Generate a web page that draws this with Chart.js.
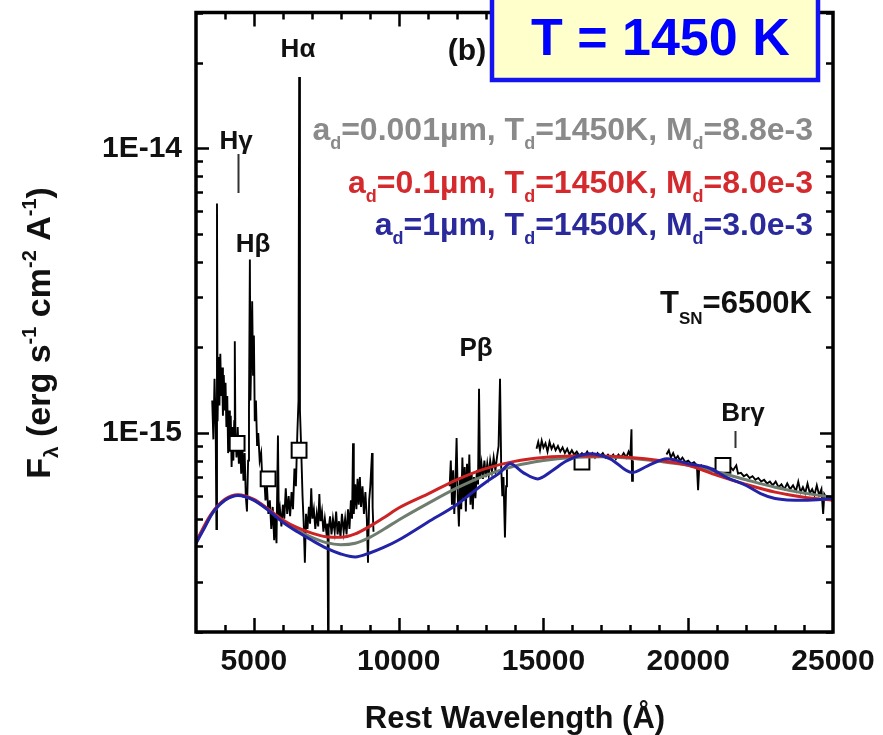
<!DOCTYPE html>
<html>
<head>
<meta charset="utf-8">
<script src="https://cdn.jsdelivr.net/npm/chart.js@4.4.0/dist/chart.umd.min.js"></script>
<style>
  html, body { margin: 0; padding: 0; background: #fff; }
  #wrap { width: 883px; height: 735px; }
</style>
</head>
<body>
<div id="wrap"><canvas id="sed" width="883" height="735"></canvas></div>
<script>
const FONT = '"Liberation Sans", Arial, Helvetica, sans-serif';

// observed spectrum, one pair of arrays per band (Angstrom, erg/s/cm2/A)
const optWave = [3560,3600,3640,3680,3705,3725,3745,3780,3810,3840,3870,3900,3930,3960,3990,4020,4050,4080,4110,4140,4170,4200,4230,4260,4290,4320,4340,4360,4400,4440,4480,4520,4560,4600,4640,4680,4720,4760,4800,4830,4861,4880,4910,4940,4970,5000,5030,5070,5110,5150,5200,5250,5300,5350,5400,5450,5500,5550,5600,5650,5700,5740,5780,5830,5860,5900,5950,6000,6050,6100,6150,6200,6250,6300,6350,6400,6450,6500,6540,6563,6590,6630,6680,6720,6760,6800,6850,6900,6940,6980,7020,7070,7120,7170,7220,7260,7300,7350,7400,7450,7500,7545,7560,7580,7630,7680,7730,7790,7840,7890,7940,7990,8040,8100,8150,8200,8250,8300,8350,8390,8423,8450,8500,8540,8580,8620,8660,8700,8750,8800,8850,8900,8940,8980,9020,9079,9100,9130];
const optFlux = [1.30e-15,9.5e-16,1.55e-15,1.05e-15,4.6e-16,6.4e-15,1.1e-15,1.85e-15,1.25e-15,1.9e-15,1.35e-15,1.7e-15,1.15e-15,1.6e-15,1.2e-15,1.5e-15,1.05e-15,1.35e-15,8.5e-16,1.2e-15,9.0e-16,1.15e-15,7.6e-16,1.05e-15,8.0e-16,1.1e-15,2.1e-15,1.0e-15,8.2e-16,1.05e-15,7.8e-16,9.5e-16,7.2e-16,9.0e-16,6.8e-16,8.5e-16,6.0e-16,5.3e-16,8.0e-16,1.2e-15,4.07e-15,1.3e-15,1.9e-15,2.9e-15,1.6e-15,2.2e-15,1.1e-15,1.3e-15,9.0e-16,1.0e-15,8.0e-16,8.5e-16,6.5e-16,7.2e-16,5.8e-16,6.5e-16,5.2e-16,5.8e-16,4.6e-16,5.5e-16,4.2e-16,5.2e-16,4.1e-16,9.8e-16,5.0e-16,5.4e-16,4.7e-16,5.6e-16,5.0e-16,6.4e-16,5.2e-16,6.0e-16,5.1e-16,6.2e-16,5.4e-16,7.5e-16,6.5e-16,1.0e-15,1.3e-15,1.78e-14,1.2e-15,9.0e-16,6.0e-16,4.8e-16,3.5e-16,5.2e-16,4.6e-16,5.5e-16,4.8e-16,6.4e-16,5.0e-16,5.4e-16,4.6e-16,5.2e-16,4.7e-16,6.1e-16,4.9e-16,5.3e-16,4.5e-16,5.0e-16,4.5e-16,4.8e-16,1.9e-16,4.6e-16,5.1e-16,4.4e-16,5.0e-16,4.5e-16,5.3e-16,4.4e-16,4.9e-16,4.3e-16,5.2e-16,4.5e-16,5.0e-16,4.4e-16,5.4e-16,4.6e-16,5.8e-16,5.0e-16,9.2e-16,5.2e-16,6.6e-16,5.4e-16,6.9e-16,5.6e-16,7.0e-16,5.5e-16,6.5e-16,5.2e-16,6.2e-16,5.0e-16,3.5e-16,5.8e-16,6.5e-16,8.5e-16,5.5e-16,4.5e-16];

const jWave = [11760,11800,11840,11880,11920,11960,12000,12040,12080,12120,12160,12200,12240,12280,12320,12360,12400,12440,12480,12520,12560,12600,12650,12700,12740,12775,12810,12860,12910,12960,13010,13060,13110,13160,13220,13280,13340,13400,13450,13500,13540,13580,13620,13670,13710,13740];
const jFlux = [6.5e-16,8.0e-16,5.6e-16,7.4e-16,5.2e-16,6.8e-16,9.6e-16,6.0e-16,4.7e-16,7.0e-16,5.4e-16,8.2e-16,5.8e-16,7.6e-16,5.3e-16,7.8e-16,6.0e-16,8.4e-16,5.6e-16,7.2e-16,5.4e-16,7.0e-16,5.9e-16,7.4e-16,6.6e-16,1.43e-15,7.0e-16,7.8e-16,6.9e-16,8.0e-16,7.0e-16,7.8e-16,7.1e-16,8.0e-16,7.3e-16,8.2e-16,7.4e-16,8.3e-16,9.0e-16,1.55e-15,7.6e-16,6.0e-16,7.0e-16,4.3e-16,6.5e-16,7.5e-16];

const hWave = [14760,14820,14880,14940,15000,15070,15140,15210,15280,15350,15420,15500,15580,15660,15740,15820,15900,15980,16060,16150,16240,16330,16420,16510,16600,16690,16780,16870,16960,17050,17140,17230,17320,17410,17500,17590,17680,17770,17860,17940,18000,18040,18060,18090];
const hFlux = [8.8e-16,9.3e-16,8.7e-16,9.4e-16,8.9e-16,9.2e-16,8.6e-16,9.3e-16,8.8e-16,9.1e-16,8.7e-16,9.0e-16,8.6e-16,8.9e-16,8.5e-16,8.8e-16,8.4e-16,8.7e-16,8.4e-16,8.6e-16,8.3e-16,8.5e-16,8.3e-16,8.6e-16,8.3e-16,8.5e-16,8.2e-16,8.5e-16,8.3e-16,8.5e-16,8.2e-16,8.4e-16,8.2e-16,8.4e-16,8.1e-16,8.4e-16,8.2e-16,8.5e-16,8.2e-16,8.6e-16,8.3e-16,1.03e-15,6.8e-16,8.0e-16];

const kWave = [19250,19330,19400,19480,19560,19640,19720,19800,19900,20000,20100,20200,20300,20340,20380,20450,20550,20650,20750,20850,20950,21050,21150,21250,21350,21450,21550,21660,21720,21820,21920,22020,22120,22220,22320,22420,22520,22620,22720,22820,22920,23020,23120,23220,23320,23420,23520,23620,23720,23800,23880,23960,24040,24120,24200,24280,24360,24440,24520,24600,24660,24700,24740];
const kFlux = [8.4e-16,8.7e-16,8.2e-16,8.5e-16,8.1e-16,8.3e-16,8.0e-16,8.2e-16,7.9e-16,8.0e-16,7.8e-16,7.9e-16,7.7e-16,6.3e-16,7.6e-16,7.7e-16,7.5e-16,7.6e-16,7.4e-16,7.5e-16,7.4e-16,7.6e-16,7.5e-16,7.7e-16,7.5e-16,7.6e-16,7.4e-16,7.7e-16,7.2e-16,7.25e-16,7.05e-16,7.15e-16,6.95e-16,7.05e-16,6.85e-16,6.95e-16,6.75e-16,6.85e-16,6.65e-16,6.75e-16,6.55e-16,6.75e-16,6.45e-16,6.6e-16,6.35e-16,6.65e-16,6.35e-16,6.55e-16,6.25e-16,6.75e-16,6.2e-16,6.45e-16,6.15e-16,6.65e-16,6.15e-16,6.35e-16,6.05e-16,6.55e-16,6.05e-16,6.35e-16,5.2e-16,6.1e-16,6.0e-16];

// broad-band photometry
const photWave = [4420, 5490, 6560, 16330, 21200];
const photFlux = [9.2e-16, 6.9e-16, 8.7e-16, 7.9e-16, 7.7e-16];

// SN + dust models
const bigGrainWave = [3000,3300,3600,4000,4450,5000,5500,6000,6500,7000,7500,8000,8500,9000,9500,10000,11000,12000,12500,13000,13500,13850,14300,14800,15300,15800,16600,17300,18060,18600,19270,20000,20700,21340,22000,22500,23000,24000,25000];
const bigGrainFlux = [4.1e-16,4.66e-16,5.3e-16,5.8e-16,6.03e-16,5.8e-16,5.35e-16,4.86e-16,4.5e-16,4.2e-16,3.94e-16,3.76e-16,3.67e-16,3.79e-16,3.97e-16,4.21e-16,4.86e-16,5.6e-16,6.13e-16,6.7e-16,7.26e-16,7.8e-16,7.26e-16,6.9e-16,7.37e-16,7.98e-16,8.45e-16,8.12e-16,7.26e-16,7.67e-16,8.12e-16,7.8e-16,7.55e-16,6.97e-16,6.54e-16,6.13e-16,5.89e-16,5.8e-16,5.89e-16];

const smoothWave = [3000,3500,4000,4450,5000,5500,6000,6500,7000,7500,8000,8500,9000,9500,10000,11000,12000,13000,14000,15000,16000,17000,18000,19000,20000,21000,22000,23000,24000,25000];
const midGrainFlux = [4.15e-16,5.15e-16,5.85e-16,6.07e-16,5.85e-16,5.4e-16,4.95e-16,4.65e-16,4.45e-16,4.32e-16,4.3e-16,4.42e-16,4.7e-16,5.05e-16,5.45e-16,6.1e-16,6.85e-16,7.5e-16,7.95e-16,8.2e-16,8.3e-16,8.3e-16,8.2e-16,8.0e-16,7.7e-16,7.1e-16,6.6e-16,6.2e-16,5.95e-16,5.8e-16];
const tinyGrainFlux = [4.1e-16,5.1e-16,5.82e-16,6.05e-16,5.82e-16,5.38e-16,4.9e-16,4.55e-16,4.3e-16,4.12e-16,4.05e-16,4.1e-16,4.3e-16,4.6e-16,4.95e-16,5.65e-16,6.4e-16,7.1e-16,7.65e-16,8.0e-16,8.2e-16,8.25e-16,8.15e-16,7.95e-16,7.7e-16,7.3e-16,6.85e-16,6.45e-16,6.15e-16,5.95e-16];

// axis labels
const xTickValues = [5000, 10000, 15000, 20000, 25000];
const yTickValues = [1e-15, 1e-14];
const yTickLabels = ['1E-15', '1E-14'];

const X_MIN = 3000, X_MAX = 25000, Y_MIN = 2e-16, Y_MAX = 3e-14;

const pts = (w, f) => w.map((x, i) => ({ x, y: f[i] }));
const gap = (x) => ({ x, y: null });

const observed = [
  ...pts(optWave, optFlux), gap(10000),
  ...pts(jWave, jFlux), gap(14200),
  ...pts(hWave, hFlux), gap(18600),
  ...pts(kWave, kFlux)
];

function richWidth(ctx, parts) {
  let w = 0;
  for (const p of parts) { ctx.font = `bold ${p[1]}px ${FONT}`; w += ctx.measureText(p[0]).width; }
  return w;
}
function drawRich(ctx, parts, x, y, align, color) {
  const w = richWidth(ctx, parts);
  let cx = align === 'right' ? x - w : align === 'center' ? x - w / 2 : x;
  ctx.fillStyle = color;
  ctx.textAlign = 'left';
  ctx.textBaseline = 'alphabetic';
  for (const p of parts) {
    ctx.font = `bold ${p[1]}px ${FONT}`;
    ctx.fillText(p[0], cx, y + (p[2] || 0));
    cx += ctx.measureText(p[0]).width;
  }
}

const decorations = {
  id: 'decorations',
  afterDraw(chart) {
    const { ctx, chartArea: a, scales: { x, y } } = chart;
    ctx.save();

    // inward ticks on all four sides
    ctx.strokeStyle = '#000';
    ctx.lineWidth = 2.5;
    ctx.beginPath();
    for (let v = 4000; v <= 24000; v += 1000) {
      const px = Math.round(x.getPixelForValue(v)) + 0.5;
      const len = v % 5000 === 0 ? 14 : 7;
      ctx.moveTo(px, a.bottom); ctx.lineTo(px, a.bottom - len);
      ctx.moveTo(px, a.top); ctx.lineTo(px, a.top + len);
    }
    for (let e = -16; e <= -14; e++) {
      for (let m = 1; m <= 9; m++) {
        const v = m * Math.pow(10, e);
        if (v < Y_MIN * 0.999 || v > Y_MAX * 1.001) continue;
        const py = Math.round(y.getPixelForValue(v)) + 0.5;
        const len = m === 1 ? 13 : 7;
        ctx.moveTo(a.left, py); ctx.lineTo(a.left + len, py);
        ctx.moveTo(a.right, py); ctx.lineTo(a.right - len, py);
      }
    }
    ctx.stroke();

    ctx.lineWidth = 3.5;
    ctx.strokeRect(a.left, a.top, a.right - a.left, a.bottom - a.top);

    // tick labels
    ctx.fillStyle = '#111';
    ctx.font = `bold 30px ${FONT}`;
    ctx.textAlign = 'center';
    ctx.textBaseline = 'middle';
    xTickValues.forEach(v => ctx.fillText(String(v), x.getPixelForValue(v), a.bottom + 30));
    ctx.textAlign = 'right';
    yTickValues.forEach((v, i) => ctx.fillText(yTickLabels[i], a.left - 14, y.getPixelForValue(v)));

    // axis titles
    drawRich(ctx, [['Rest Wavelength (Å)', 31]], 515, 728, 'center', '#111');
    ctx.save();
    ctx.translate(38, 333);
    ctx.rotate(-Math.PI / 2);
    drawRich(ctx, [['F', 34], ['λ', 21, 8], [' (erg s', 34], ['-1', 20, -14], [' cm', 34], ['-2', 20, -14], [' A', 34], ['-1', 20, -14], [')', 34]], 0, 12, 'center', '#111');
    ctx.restore();

    // line identifications
    ctx.fillStyle = '#111';
    ctx.font = `bold 26px ${FONT}`;
    ctx.textAlign = 'center';
    ctx.textBaseline = 'alphabetic';
    ctx.fillText('Hα', 298, 57);
    ctx.fillText('Hγ', 236, 149);
    ctx.fillText('Hβ', 253, 252);
    ctx.fillText('Pβ', 476, 356);
    ctx.fillText('Brγ', 743, 421);
    ctx.lineWidth = 2;
    ctx.strokeStyle = '#333';
    ctx.beginPath();
    ctx.moveTo(238.5, 154); ctx.lineTo(238.5, 193);
    ctx.moveTo(735.5, 431); ctx.lineTo(735.5, 448);
    ctx.stroke();

    ctx.font = `bold 30px ${FONT}`;
    ctx.fillText('(b)', 467, 60);

    // model key
    drawRich(ctx, [['a', 32], ['d', 18, 9], ['=0.001µm, T', 32], ['d', 18, 9], ['=1450K, M', 32], ['d', 18, 9], ['=8.8e-3', 32]], 813, 140, 'right', '#8a8a8a');
    drawRich(ctx, [['a', 32], ['d', 18, 9], ['=0.1µm, T', 32], ['d', 18, 9], ['=1450K, M', 32], ['d', 18, 9], ['=8.0e-3', 32]], 813, 193, 'right', '#d42a2e');
    drawRich(ctx, [['a', 32], ['d', 18, 9], ['=1µm, T', 32], ['d', 18, 9], ['=1450K, M', 32], ['d', 18, 9], ['=3.0e-3', 32]], 813, 235, 'right', '#2a2a9c');
    drawRich(ctx, [['T', 31], ['SN', 17, 11], ['=6500K', 31]], 812, 313, 'right', '#111');

    // temperature banner
    ctx.fillStyle = '#ffffcc';
    ctx.fillRect(492, -10, 326, 90);
    ctx.strokeStyle = '#1414f0';
    ctx.lineWidth = 4.5;
    ctx.strokeRect(492, -10, 326, 90);
    ctx.fillStyle = '#0000ff';
    ctx.font = `bold 52px ${FONT}`;
    ctx.textAlign = 'left';
    ctx.fillText('T = 1450 K', 531, 55);

    ctx.restore();
  }
};

new Chart(document.getElementById('sed'), {
  type: 'line',
  data: {
    datasets: [
      { data: observed, borderColor: '#000', borderWidth: 1.9, pointRadius: 0, tension: 0, spanGaps: false, order: 5 },
      { data: pts(photWave, photFlux), showLine: false, pointStyle: 'rect', pointRadius: 10.5,
        pointBackgroundColor: '#fff', pointBorderColor: '#000', pointBorderWidth: 2, order: 4 },
      { data: pts(smoothWave, tinyGrainFlux), borderColor: '#6f7d6f', borderWidth: 3, pointRadius: 0, cubicInterpolationMode: 'monotone', order: 3 },
      { data: pts(smoothWave, midGrainFlux), borderColor: '#cc2424', borderWidth: 3, pointRadius: 0, cubicInterpolationMode: 'monotone', order: 2 },
      { data: pts(bigGrainWave, bigGrainFlux), borderColor: '#2323a8', borderWidth: 3, pointRadius: 0, cubicInterpolationMode: 'monotone', order: 1 }
    ]
  },
  options: {
    responsive: false,
    animation: false,
    devicePixelRatio: 1,
    layout: { padding: { left: 196, top: 10, right: 50, bottom: 103 } },
    plugins: { legend: { display: false }, tooltip: { enabled: false } },
    scales: {
      x: { type: 'linear', min: X_MIN, max: X_MAX, display: false },
      y: { type: 'logarithmic', min: Y_MIN, max: Y_MAX, display: false }
    }
  },
  plugins: [decorations]
});
</script>
</body>
</html>
